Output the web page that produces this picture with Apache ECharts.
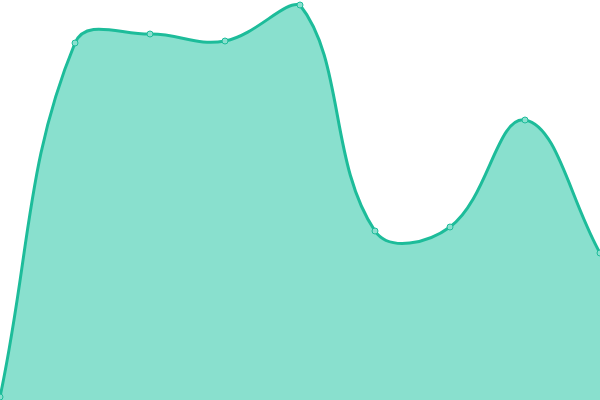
<!DOCTYPE html>
<html><head><meta charset="utf-8">
<script src="https://cdn.jsdelivr.net/npm/echarts@6/dist/echarts.min.js"></script>
<style>html,body{margin:0;padding:0;background:#fff}#c{width:600px;height:400px}</style>
</head><body><div id="c"></div>
<script>
const categories = ['1','2','3','4','5','6','7','8','9'];
const values = [3, 357, 366, 359, 395, 169, 173, 280, 147];
const tension = 0.4;
const chart = echarts.init(document.getElementById('c'));

function splinePath(pts, top, bottom) {
  const n = pts.length;
  const cps = pts.map((p, i) => {
    const prev = pts[Math.max(0, i - 1)];
    const next = pts[Math.min(n - 1, i + 1)];
    const d01 = Math.hypot(p[0] - prev[0], p[1] - prev[1]);
    const d12 = Math.hypot(next[0] - p[0], next[1] - p[1]);
    const tot = d01 + d12 || 1;
    const fa = tension * d01 / tot, fb = tension * d12 / tot;
    const clampY = y => Math.min(bottom, Math.max(top, y));
    return {
      prev: [p[0] - fa * (next[0] - prev[0]), clampY(p[1] - fa * (next[1] - prev[1]))],
      next: [p[0] + fb * (next[0] - prev[0]), clampY(p[1] + fb * (next[1] - prev[1]))]
    };
  });
  let d = 'M' + pts[0][0] + ' ' + pts[0][1];
  for (let i = 1; i < n; i++) {
    const a = cps[i - 1].next, b = cps[i].prev, p = pts[i];
    d += ' C' + a[0] + ' ' + a[1] + ' ' + b[0] + ' ' + b[1] + ' ' + p[0] + ' ' + p[1];
  }
  return d;
}

chart.setOption({
  animation: false,
  grid: {left: 0, right: 0, top: 0, bottom: 0},
  xAxis: {type: 'category', data: categories, boundaryGap: false, show: false},
  yAxis: {type: 'value', min: 0, max: 400, show: false},
  series: [{
    type: 'custom',
    data: values.map((v, i) => [i, v]),
    z: 1,
    renderItem: function (params, api) {
      if (params.dataIndex !== 0) return {type: 'group', children: []};
      const cs = params.coordSys;
      const pts = values.map((v, i) => api.coord([i, v]));
      const base = api.coord([0, 0])[1];
      const line = splinePath(pts, cs.y, cs.y + cs.height);
      const area = line + ' L' + pts[pts.length - 1][0] + ' ' + base + ' L' + pts[0][0] + ' ' + base + ' Z';
      return {
        type: 'group',
        children: [
          {type: 'path', shape: {pathData: area}, style: {fill: '#89e0ce', stroke: null}},
          {type: 'path', shape: {pathData: line}, style: {fill: null, stroke: '#1dbc9a', lineWidth: 3}}
        ]
      };
    }
  }, {
    type: 'line',
    data: values,
    z: 3,
    symbol: 'circle',
    symbolSize: 6,
    lineStyle: {opacity: 0},
    itemStyle: {color: '#8ae0cf', borderColor: '#1dbc9a', borderWidth: 1}
  }]
});
</script></body></html>
